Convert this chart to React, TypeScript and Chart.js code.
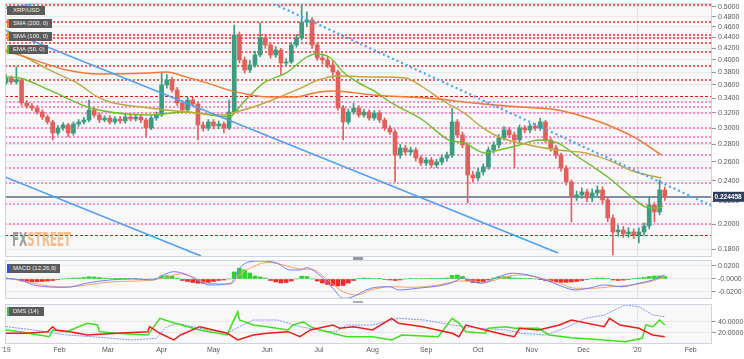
import React, { useEffect, useRef } from 'react';
import { Chart, registerables } from 'chart.js';
Chart.register(...registerables);

// ---------- price candles (3-day steps from 1 Jan 2019) ----------
const CANDLE_STEP = 3;
const candleOpen = [
  0.3630,0.3706,0.3644,0.3675,0.3335,0.3293,0.3265,0.3210,0.3143,0.3078,
  0.2938,0.3001,0.3039,0.2938,0.3052,0.3078,0.3104,0.3238,0.3170,0.3104,
  0.3130,0.3078,0.3117,0.3091,0.3143,0.3117,0.3143,0.3104,0.3001,0.3130,
  0.3170,0.3598,0.3675,0.3523,0.3335,0.3238,0.3377,0.3321,0.3039,0.3001,
  0.3078,0.3026,0.3052,0.3001,0.3210,0.4443,0.3998,0.3833,0.3915,0.4083,
  0.4387,0.4259,0.4083,0.4170,0.3948,0.3965,0.4259,0.4387,0.4693,0.4733,
  0.4259,0.4032,0.3998,0.3915,0.3801,0.3265,0.3078,0.3210,0.3265,0.3170,
  0.3210,0.3130,0.3197,0.3104,0.3001,0.2951,0.2678,0.2758,0.2712,0.2735,
  0.2644,0.2589,0.2622,0.2567,0.2600,0.2644,0.2678,0.3078,0.2914,0.2793,
  0.2461,0.2430,0.2492,0.2546,0.2735,0.2793,0.2877,0.2976,0.2914,0.2853,
  0.3001,0.2976,0.3026,0.3001,0.3078,0.2853,0.2758,0.2678,0.2535,0.2389,
  0.2243,0.2262,0.2291,0.2234,0.2281,0.2310,0.2215,0.2053,0.1935,0.1951,
  0.1919,0.1935,0.1911,0.1935,0.1985,0.2169,0.2105,0.2310
];
const candleClose = [
  0.3706,0.3644,0.3675,0.3335,0.3293,0.3265,0.3210,0.3143,0.3078,0.2938,
  0.3001,0.3039,0.2938,0.3052,0.3078,0.3104,0.3238,0.3170,0.3104,0.3130,
  0.3078,0.3117,0.3091,0.3143,0.3117,0.3143,0.3104,0.3001,0.3130,0.3170,
  0.3598,0.3675,0.3523,0.3335,0.3238,0.3377,0.3321,0.3039,0.3001,0.3078,
  0.3026,0.3052,0.3001,0.3210,0.4443,0.3998,0.3833,0.3915,0.4083,0.4387,
  0.4259,0.4083,0.4170,0.3948,0.3965,0.4259,0.4387,0.4693,0.4733,0.4259,
  0.4032,0.3998,0.3915,0.3801,0.3265,0.3078,0.3210,0.3265,0.3170,0.3210,
  0.3130,0.3197,0.3104,0.3001,0.2951,0.2678,0.2758,0.2712,0.2735,0.2644,
  0.2589,0.2622,0.2567,0.2600,0.2644,0.2678,0.3078,0.2914,0.2793,0.2461,
  0.2430,0.2492,0.2546,0.2735,0.2793,0.2877,0.2976,0.2914,0.2853,0.3001,
  0.2976,0.3026,0.3001,0.3078,0.2853,0.2758,0.2678,0.2535,0.2389,0.2243,
  0.2262,0.2291,0.2234,0.2281,0.2310,0.2215,0.2053,0.1935,0.1951,0.1919,
  0.1935,0.1911,0.1935,0.1985,0.2169,0.2105,0.2310,0.2245
];
const candleHigh = [
  0.3760,0.3740,0.3882,0.3700,0.3370,0.3330,0.3300,0.3240,0.3170,0.3100,
  0.3030,0.3070,0.3060,0.3080,0.3110,0.3140,0.3377,0.3270,0.3200,0.3160,
  0.3160,0.3150,0.3150,0.3180,0.3190,0.3180,0.3170,0.3130,0.3160,0.3210,
  0.3801,0.3760,0.3720,0.3560,0.3370,0.3420,0.3420,0.3350,0.3080,0.3110,
  0.3110,0.3090,0.3080,0.3377,0.4634,0.4500,0.4050,0.3990,0.4150,0.4674,
  0.4450,0.4300,0.4230,0.4200,0.4020,0.4300,0.4450,0.5042,0.4900,0.4780,
  0.4300,0.4100,0.4060,0.3980,0.3830,0.3300,0.3250,0.3330,0.3300,0.3250,
  0.3240,0.3230,0.3230,0.3130,0.3030,0.2980,0.2800,0.2790,0.2770,0.2760,
  0.2670,0.2650,0.2650,0.2630,0.2680,0.2710,0.3265,0.3110,0.2950,0.2820,
  0.2500,0.2530,0.2580,0.2770,0.2830,0.2920,0.3020,0.3010,0.2950,0.3040,
  0.3030,0.3060,0.3060,0.3130,0.3100,0.2880,0.2790,0.2700,0.2560,0.2410,
  0.2300,0.2330,0.2320,0.2320,0.2350,0.2340,0.2240,0.2080,0.1990,0.1980,
  0.1970,0.1960,0.1970,0.2010,0.2243,0.2190,0.2410,0.2340
];
const candleLow = [
  0.3600,0.3610,0.3610,0.3300,0.3260,0.3230,0.3180,0.3110,0.3050,0.2853,
  0.2910,0.2970,0.2889,0.2910,0.3020,0.3050,0.3080,0.3140,0.3070,0.3080,
  0.3050,0.3050,0.3060,0.3060,0.3090,0.3090,0.3070,0.2889,0.2980,0.3100,
  0.3150,0.3550,0.3490,0.3300,0.3200,0.3210,0.3290,0.2853,0.2960,0.2970,
  0.2990,0.2990,0.2938,0.2980,0.3190,0.3950,0.3780,0.3790,0.3880,0.4050,
  0.4200,0.4030,0.4040,0.3760,0.3900,0.3940,0.4220,0.4350,0.4600,0.4200,
  0.3990,0.3930,0.3870,0.3700,0.3230,0.2853,0.3050,0.3180,0.3140,0.3140,
  0.3100,0.3100,0.3070,0.2970,0.2920,0.2389,0.2640,0.2680,0.2680,0.2610,
  0.2560,0.2560,0.2540,0.2540,0.2570,0.2610,0.2650,0.2880,0.2760,0.2187,
  0.2390,0.2400,0.2460,0.2520,0.2700,0.2760,0.2850,0.2880,0.2535,0.2820,
  0.2940,0.2940,0.2970,0.2970,0.2820,0.2720,0.2640,0.2500,0.2360,0.2018,
  0.2210,0.2230,0.2200,0.2200,0.2250,0.2180,0.2020,0.1756,0.1900,0.1890,
  0.1890,0.1880,0.1847,0.1910,0.1960,0.2020,0.2080,0.2210
];
const currentPrice = 0.224458;

// ---------- moving averages ----------
const sma200Days = [0,25,35,54,83,93,104,116,133,152,168,178,189,212,250,270,298,319,331,348,364,379];
const sma200Vals = [0.4170,0.3915,0.3833,0.3769,0.3785,0.3801,0.3722,0.3629,0.3494,0.3421,0.3421,0.3479,0.3508,0.3450,0.3392,0.3335,0.3279,0.3238,0.3170,0.3039,0.2877,0.2678];
const sma100Days = [0,8,25,41,53,60,83,104,127,131,143,154,168,181,191,212,231,241,252,265,275,285,297,319,335,348,364,379];
const sma100Vals = [0.4130,0.4083,0.3833,0.3629,0.3421,0.3349,0.3265,0.3210,0.3170,0.3197,0.3279,0.3377,0.3523,0.3675,0.3737,0.3722,0.3706,0.3567,0.3377,0.3197,0.3014,0.2889,0.2817,0.2735,0.2701,0.2622,0.2492,0.2430];
const ema50Days = [0,8,25,49,83,104,129,137,149,162,174,179,187,195,204,212,223,241,256,265,277,285,297,308,319,331,348,364,370,377,380];
const ema50Vals = [0.3722,0.3706,0.3523,0.3265,0.3170,0.3210,0.3143,0.3335,0.3629,0.3785,0.4049,0.4101,0.4049,0.3801,0.3629,0.3523,0.3335,0.3104,0.2853,0.2817,0.2701,0.2735,0.2793,0.2853,0.2817,0.2655,0.2440,0.2215,0.2150,0.2141,0.2159];

// ---------- trend lines (day, price end points) ----------
const channelUpperDays = [-0.58, 319.3];
const channelUpperVals = [0.4538, 0.1771];
const channelLowerDays = [-0.58, 112.8];
const channelLowerVals = [0.2440, 0.1749];
const topLineDays = [-0.58, 30.7];
const topLineVals = [0.4968, 0.5150];
const dottedTrendDays = [155, 408.3];
const dottedTrendVals = [0.5064, 0.2159];

// ---------- horizontal levels ----------
const redLevels = [0.5049,0.4687,0.4443,0.4393,0.4290,0.4130,0.3903,0.3675];
const pinkLevels = [0.3353,0.3283,0.3197,0.3001,0.2885,0.2820,0.2678,0.2538,0.2376,0.2175,0.1999];
const dashedLevels = [0.3439,0.1908];

// ---------- axis ticks ----------
const priceTicks = [0.18,0.20,0.22,0.24,0.26,0.28,0.30,0.32,0.34,0.36,0.38,0.40,0.42,0.44,0.46,0.48,0.50];
const macdTicks = [0.02, 0, -0.02];
const macdTickLabels = ['0.0200', '-0.0000', '-0.0200'];
const dmsTicks = [40, 20];
const dmsTickLabels = ['40.0000', '20.0000'];
const monthDays = [0,31,59,90,120,151,181,212,243,273,304,334,365,396];
const monthLabels = ["'19","Feb","Mar","Apr","May","Jun","Jul","Aug","Sep","Oct","Nov","Dec","'20","Feb"];
const yearBoundaryDay = 365;

// ---------- MACD (12,26,9) ----------
const macdHist = [
  0,0,-0.0008,-0.0031,-0.0038,-0.0042,-0.0042,-0.0038,-0.0031,-0.0023,
  -0.0008,0,0.0008,0.0015,0.0015,0.0023,0.0035,0.0031,0.0023,0.0012,
  0.0008,0.0005,0.0003,0.0003,0.0005,0.0003,0,-0.0005,0,0.0008,
  0.0046,0.0051,0.0043,0.0015,-0.0023,-0.0038,-0.0054,-0.0066,-0.0066,-0.0054,
  -0.0038,-0.0023,-0.0015,0,0.0108,0.0165,0.0139,0.0092,0.0046,0.0031,
  0.0015,-0.0023,-0.0046,-0.0062,-0.0054,-0.0031,0,0.0042,0.0038,0,
  -0.0031,-0.0062,-0.0085,-0.0100,-0.0108,-0.0100,-0.0062,-0.0023,0.0008,0.0015,
  0.0012,0.0008,0.0005,-0.0008,-0.0015,-0.0023,-0.0015,0,0.0005,0.0008,
  0.0008,0.0008,0.0005,0.0008,0.0012,0.0015,0.0054,0.0062,0.0038,-0.0031,
  -0.0054,-0.0057,-0.0046,-0.0015,0.0015,0.0031,0.0035,0.0031,0.0015,0.0012,
  0.0008,0.0005,0,-0.0005,-0.0023,-0.0038,-0.0046,-0.0051,-0.0051,-0.0046,
  -0.0038,-0.0023,-0.0008,0.0008,0.0015,0.0015,0.0008,-0.0015,-0.0023,-0.0018,
  -0.0008,0.0005,0.0015,0.0023,0.0038,0.0046,0.0046,0.0038
];
const macdDays = [0,8,16,25,35,47,60,73,85,91,97,105,112,118,130,135,141,147,157,164,170,174,180,189,195,199,211,222,227,241,250,258,264,270,275,285,293,302,312,322,329,337,346,356,366,374,381];
const macdVals = [0.0011,-0.0015,-0.0092,-0.0123,-0.0128,-0.0062,-0.0015,0,-0.0015,0.0062,0.0112,0.0062,-0.0042,-0.0092,-0.0066,0.0165,0.0266,0.0277,0.0242,0.0139,0.0139,0.0174,0.0088,-0.0143,-0.0297,-0.0288,-0.0143,-0.0119,-0.0169,-0.0134,-0.0108,-0.0057,0.0011,-0.0042,-0.0066,0.0035,0.0088,0.0062,-0.0015,-0.0119,-0.0169,-0.0143,-0.0092,-0.0119,-0.0066,-0.0015,0.0062];
const signalDays = [0,16,25,35,47,60,85,93,101,108,116,130,135,143,151,160,170,178,186,195,203,211,223,235,250,262,270,277,289,298,308,320,329,339,350,362,374,381];
const signalVals = [0.0015,-0.0062,-0.0108,-0.0123,-0.0092,-0.0046,-0.0015,0.0031,0.0077,0.0031,-0.0062,-0.0077,0.0062,0.0189,0.0257,0.0216,0.0154,0.0139,-0.0015,-0.0196,-0.0246,-0.0169,-0.0119,-0.0128,-0.0092,-0.0031,-0.0031,-0.0051,0.0035,0.0062,0.0020,-0.0066,-0.0143,-0.0143,-0.0119,-0.0092,-0.0031,0.0035];

// ---------- DMS (14) ----------
const plusDiDays = [0,8,25,27,35,47,53,54,64,82,89,95,105,112,128,130,134,135,143,151,163,166,172,176,182,189,197,212,223,229,250,258,262,266,277,279,289,294,308,314,327,346,358,368,370,374,378,381];
const plusDiVals = [25.5,22.4,13.3,25.5,22.4,37.6,34.5,22.4,19.5,16.4,46.7,40.5,31.5,25.5,16.4,31.5,58.7,43.6,34.5,31.5,25.5,34.5,40.5,31.5,25.5,19.5,13.3,13.3,7.3,16.4,13.3,46.7,37.6,22.4,19.5,28.5,31.5,28.5,28.5,16.4,11.5,7.3,4,10.4,34.5,31.5,43.6,34.5];
const minusDiDays = [0,12,24,27,29,37,47,64,82,83,89,97,101,112,128,134,143,151,163,170,176,189,193,201,212,223,227,241,258,262,266,277,289,294,297,308,320,327,346,349,355,366,374,381];
const minusDiVals = [19.5,19.5,22.4,31.5,25.5,22.4,16.4,19.5,22.4,31.5,19.5,7.3,16.4,31.5,19.5,7.3,16.4,19.5,22.4,13.3,25.5,34.5,28.5,31.5,25.5,46.7,37.6,31.5,19.5,13.3,34.5,25.5,16.4,13.3,28.5,25.5,34.5,43.6,31.5,46.7,34.5,28.5,16.4,13.3];
const adxDays = [0,16,35,50,73,87,93,99,112,128,135,143,157,170,186,191,197,212,227,242,258,274,289,298,312,323,335,346,358,366,374,381];
const adxVals = [31.5,25.5,16.4,13.3,7.3,10.4,31.5,37.6,28.5,19.5,31.5,43.6,43.6,31.5,22.4,22.4,34.5,34.5,46.7,43.6,34.5,28.5,25.5,19.5,16.4,28.5,46.7,52.7,70.9,67.8,52.7,49.6];

// ---------- styling ----------
const X_MIN = -0.58;
const X_MAX = 408.3;
const AXIS_W = 32;
const FONT = 'Liberation Sans';
const UP = '#3b9c80';
const DOWN = '#e2605c';
const PANEL_BG = '#f8f8f8';
const PANEL_BORDER = '#cdd5e3';

const pts = (days: number[], vals: number[]) => days.map((d, i) => ({ x: d, y: vals[i] }));

const yAxisBase = (ticks: number[], labels: (v: number) => string) => ({
  position: 'right' as const,
  afterBuildTicks: (axis: any) => { axis.ticks = ticks.map((v) => ({ value: v })); },
  afterFit: (axis: any) => { axis.width = AXIS_W; axis.paddingTop = 0; axis.paddingBottom = 0; },
  ticks: { autoSkip: false, color: '#555', font: { family: FONT, size: 7 }, padding: 2, callback: (v: any) => labels(Number(v)) },
  grid: { color: '#e8e8e8', tickColor: '#999', tickLength: 4, drawTicks: true },
  border: { display: false },
});

const hiddenX = { type: 'linear' as const, min: X_MIN, max: X_MAX, display: false, offset: false };

const panelPlugin = (drawLevels: boolean) => ({
  id: 'panel' + (drawLevels ? 'Main' : 'Sub'),
  beforeDraw(chart: any) {
    const { ctx, chartArea: a } = chart;
    ctx.save();
    ctx.fillStyle = PANEL_BG;
    ctx.fillRect(a.left, a.top, a.right - a.left, a.bottom - a.top);
    ctx.restore();
  },
  beforeDatasetsDraw(chart: any) {
    const { ctx, chartArea: a, scales } = chart;
    ctx.save();
    ctx.beginPath();
    ctx.rect(a.left, a.top, a.right - a.left, a.bottom - a.top);
    ctx.clip();
    const xp = Math.round(scales.x.getPixelForValue(yearBoundaryDay)) + 0.5;
    ctx.strokeStyle = '#e2e2e2';
    ctx.lineWidth = 1;
    ctx.beginPath(); ctx.moveTo(xp, a.top); ctx.lineTo(xp, a.bottom); ctx.stroke();
    if (drawLevels) {
      const y = scales.y;
      const line = (v: number, color: string, w: number, dash: number[]) => {
        const py = Math.round(y.getPixelForValue(v)) + (w % 2 ? 0.5 : 0);
        ctx.strokeStyle = color; ctx.lineWidth = w; ctx.setLineDash(dash);
        ctx.beginPath(); ctx.moveTo(a.left, py); ctx.lineTo(a.right, py); ctx.stroke();
      };
      redLevels.forEach((v) => line(v, 'rgba(255,60,60,0.85)', 2, [2, 2]));
      pinkLevels.forEach((v) => line(v, 'rgba(255,120,200,0.85)', 2, [2, 2]));
      dashedLevels.forEach((v) => line(v, '#e81010', 1, [3, 2]));
      line(currentPrice, '#7f8ea6', 2, []);
    }
    ctx.restore();
  },
  afterDraw(chart: any) {
    const { ctx, chartArea: a, scales } = chart;
    ctx.save();
    ctx.strokeStyle = PANEL_BORDER;
    ctx.lineWidth = 1;
    ctx.strokeRect(a.left + 0.5, a.top + 0.5, a.right - a.left - 1, a.bottom - a.top - 1);
    if (drawLevels) {
      const py = scales.y.getPixelForValue(currentPrice);
      ctx.fillStyle = '#2e3f5c';
      ctx.fillRect(a.right + 1, py - 5, AXIS_W - 1, 10);
      ctx.fillStyle = '#fff';
      ctx.font = `bold 6.5px ${FONT}`;
      ctx.textBaseline = 'middle';
      ctx.fillText(currentPrice.toFixed(6), a.right + 2.5, py + 0.5);
    }
    ctx.restore();
  },
});

function useChart(ref: React.RefObject<HTMLCanvasElement>, make: () => any) {
  useEffect(() => {
    if (!ref.current) return;
    const chart = new Chart(ref.current, make());
    return () => chart.destroy();
  }, []);
}

const commonOpts = {
  responsive: false,
  animation: false as const,
  events: [] as any[],
  plugins: { legend: { display: false }, tooltip: { enabled: false } },
};

export default function App() {
  const mainRef = useRef<HTMLCanvasElement>(null);
  const macdRef = useRef<HTMLCanvasElement>(null);
  const dmsRef = useRef<HTMLCanvasElement>(null);

  useChart(mainRef, () => {
    const days = candleClose.map((_, i) => i * CANDLE_STEP);
    const colors = candleClose.map((c, i) => (c >= candleOpen[i] ? UP : DOWN));
    return {
      type: 'bar',
      data: {
        datasets: [
          { type: 'line', data: pts(dottedTrendDays, dottedTrendVals), borderColor: '#45a2ff', borderWidth: 2.2, borderDash: [2, 3], pointRadius: 0, order: 0 },
          { type: 'line', data: pts(channelUpperDays, channelUpperVals), borderColor: '#4f9ff5', borderWidth: 1.6, pointRadius: 0, order: 0 },
          { type: 'line', data: pts(channelLowerDays, channelLowerVals), borderColor: '#4f9ff5', borderWidth: 1.6, pointRadius: 0, order: 0 },
          { type: 'line', data: pts(topLineDays, topLineVals), borderColor: '#4f9ff5', borderWidth: 1.6, pointRadius: 0, order: 0 },
          { type: 'line', data: pts(sma200Days, sma200Vals), borderColor: '#f07a30', borderWidth: 1.4, pointRadius: 0, cubicInterpolationMode: 'monotone', order: 1 },
          { type: 'line', data: pts(sma100Days, sma100Vals), borderColor: '#bba83e', borderWidth: 1.4, pointRadius: 0, cubicInterpolationMode: 'monotone', order: 1 },
          { type: 'line', data: pts(ema50Days, ema50Vals), borderColor: '#6ebf2e', borderWidth: 1.4, pointRadius: 0, cubicInterpolationMode: 'monotone', order: 1 },
          { type: 'bar', data: days.map((d, i) => ({ x: d, y: [candleLow[i], candleHigh[i]] })), backgroundColor: colors, barThickness: 1, grouped: false, order: 10 },
          { type: 'bar', data: days.map((d, i) => ({ x: d, y: [candleOpen[i], candleClose[i]] })), backgroundColor: colors, barThickness: 4, minBarLength: 1, grouped: false, order: 9 },
        ],
      },
      options: {
        ...commonOpts,
        layout: { padding: { left: 5, top: 3, right: 0, bottom: 1 } },
        scales: {
          x: hiddenX,
          y: { type: 'logarithmic', min: 0.1741, max: 0.5085, ...yAxisBase(priceTicks, (v) => v.toFixed(4)) },
        },
      },
      plugins: [panelPlugin(true)],
    };
  });

  useChart(macdRef, () => {
    const days = macdHist.map((_, i) => i * CANDLE_STEP);
    return {
      type: 'bar',
      data: {
        datasets: [
          { type: 'line', data: pts(macdDays, macdVals), borderColor: '#6f7fff', borderWidth: 1, pointRadius: 0, cubicInterpolationMode: 'monotone', order: 0 },
          { type: 'line', data: pts(signalDays, signalVals), borderColor: '#ff9f5e', borderWidth: 1, pointRadius: 0, cubicInterpolationMode: 'monotone', order: 1 },
          { type: 'bar', data: days.map((d, i) => ({ x: d, y: macdHist[i] })), backgroundColor: macdHist.map((v) => (v >= 0 ? '#2bd42b' : '#f02828')), barThickness: 4, grouped: false, order: 5 },
        ],
      },
      options: {
        ...commonOpts,
        layout: { padding: { left: 5, top: 2, right: 0, bottom: 3 } },
        scales: {
          x: hiddenX,
          y: { type: 'linear', min: -0.0308, max: 0.0292, ...yAxisBase(macdTicks, (v) => macdTickLabels[macdTicks.indexOf(v)] ?? '') },
        },
      },
      plugins: [panelPlugin(false)],
    };
  });

  useChart(dmsRef, () => ({
    type: 'line',
    data: {
      datasets: [
        { data: pts(adxDays, adxVals), borderColor: '#8790ff', borderWidth: 1, borderDash: [2, 1], pointRadius: 0, order: 2 },
        { data: pts(plusDiDays, plusDiVals), borderColor: '#3fe01e', borderWidth: 1.5, pointRadius: 0, order: 1 },
        { data: pts(minusDiDays, minusDiVals), borderColor: '#f01c1c', borderWidth: 1.5, pointRadius: 0, order: 0 },
      ],
    },
    options: {
      ...commonOpts,
      layout: { padding: { left: 5, top: 3, right: 0, bottom: 0 } },
      scales: {
        x: {
          type: 'linear', min: X_MIN, max: X_MAX, offset: false,
          afterBuildTicks: (axis: any) => { axis.ticks = monthDays.map((v) => ({ value: v })); },
          afterFit: (axis: any) => { axis.height = 15; axis.paddingLeft = 0; axis.paddingRight = 0; },
          ticks: { autoSkip: false, maxRotation: 0, color: '#555', font: { family: FONT, size: 7 }, padding: 2, callback: (v: any) => monthLabels[monthDays.indexOf(Number(v))] ?? '' },
          grid: { display: false, drawTicks: false, tickLength: 0 },
          border: { display: false },
        },
        y: { type: 'linear', min: 0, max: 72.7, ...yAxisBase(dmsTicks, (v) => dmsTickLabels[dmsTicks.indexOf(v)] ?? '') },
      },
    },
    plugins: [panelPlugin(false)],
  }));

  const tag = (left: number, top: number, width: number, text: string, edge: string) => (
    <div style={{ position: 'absolute', left, top, width, height: 9, boxSizing: 'border-box', background: '#5b5b5b', borderLeft: `2px solid ${edge}`, color: '#f2f2f2', fontFamily: FONT, fontSize: 6, lineHeight: '9px', paddingLeft: 4, whiteSpace: 'nowrap', overflow: 'hidden' }}>{text}</div>
  );

  return (
    <div style={{ position: 'absolute', left: 0, top: 0, width: 744, height: 359, background: '#fff', overflow: 'hidden' }}>
      <canvas ref={mainRef} width={744} height={258} style={{ position: 'absolute', left: 0, top: 0 }} />
      <canvas ref={macdRef} width={744} height={44} style={{ position: 'absolute', left: 0, top: 258 }} />
      <canvas ref={dmsRef} width={744} height={58} style={{ position: 'absolute', left: 0, top: 301 }} />
      {tag(7, 6, 38, 'XRP/USD', '#5b5b5b')}
      {tag(7, 19, 45, 'SMA (200, 0)', '#f07a30')}
      {tag(7, 32, 45, 'SMA (100, 0)', '#d8a040')}
      {tag(7, 45, 41, 'EMA (50, 0)', '#6ebf2e')}
      {tag(7, 264, 53, 'MACD (12,26,9)', '#3050e0')}
      {tag(7, 307, 37, 'DMS (14)', '#3fc03f')}
      <div style={{ position: 'absolute', left: 12, top: 229, fontFamily: 'DejaVu Sans Condensed, DejaVu Sans, sans-serif', fontWeight: 'bold', fontSize: 20, lineHeight: '20px', transform: 'scaleX(0.6)', transformOrigin: 'left top', whiteSpace: 'nowrap', letterSpacing: -0.5 }}>
        <span style={{ color: 'rgba(130,130,130,0.75)' }}>FX</span>
        <span style={{ color: 'rgba(242,160,90,0.65)' }}>STREET</span>
      </div>
      <div style={{ position: 'absolute', left: 353, top: 257, width: 10, height: 3, background: '#9a9a9a' }} />
      <div style={{ position: 'absolute', left: 353, top: 301, width: 10, height: 2, background: '#b0b0b0' }} />
    </div>
  );
}
